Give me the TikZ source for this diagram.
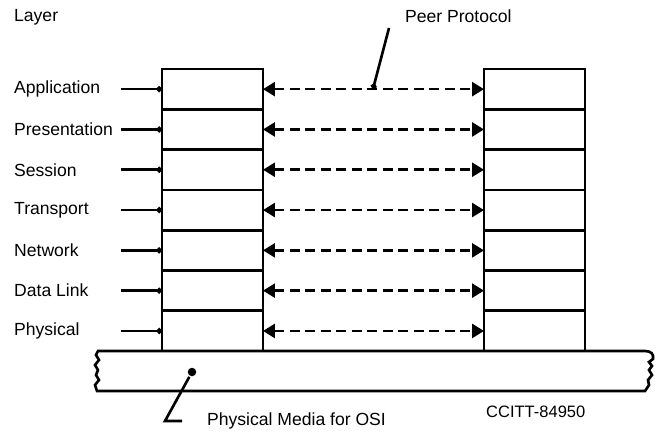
\documentclass[tikz,border=0pt]{standalone}
\usepackage{fontspec}
\setmainfont{Liberation Sans}
\usetikzlibrary{arrows.meta,positioning}

\begin{document}
\begin{tikzpicture}[x=0.02cm,y=-0.02cm,line width=1.5pt,font=\fontsize{10}{12}\selectfont,
    layerbox/.style={draw,minimum width=2.02cm,minimum height=0.806cm,inner sep=0pt,outer sep=0pt},
    peer/.style={dashed,dash pattern=on 0.2cm off 0.11cm,{Triangle[length=0.24cm,width=0.28cm]}-{Triangle[length=0.24cm,width=0.28cm]}},
    feed/.style={-{Circle[length=3.2pt]}},
    mediadot/.style={circle,fill,inner sep=0pt,minimum size=0.17cm}]
    \useasboundingbox (0,0) rectangle (655,436);

    % column titles
    \node[anchor=west] (layer) at (7,17) {Layer};
    \node[anchor=west] (peerlabel) at (398,16) {Peer Protocol};

    % the two seven-layer stacks
    \foreach \name [count=\i] in {Application,Presentation,Session,Transport,Network,Data Link,Physical} {
      \node[layerbox] (L\i) at (212.5,{69+40.3*(\i-0.5)}) {};
      \node[layerbox] (R\i) at (534.5,{69+40.3*(\i-0.5)}) {};
      \node[anchor=west] (name\i) at (7,{69+40.3*(\i-0.5)}) {\name};
      \coordinate (in\i) at (121,{69+40.3*(\i-0.5)});
      \draw[feed] (in\i) -- (L\i.west);
      \draw[peer] (L\i.east) -- (R\i.west);
    }

    % pointer to the peer protocol arrows
    \coordinate (ptop) at (389,28);
    \coordinate (ptip) at (373,89);
    \draw[-{Circle[length=3.2pt]}] (ptop) -- (ptip);

    % physical media bar
    \draw (98,351) -- (645,351) .. controls (651,351) and (654,354) .. (653,359)
      -- (649,362) -- (652,366) -- (649,370) -- (652,375) -- (648,380) -- (649,385)
      -- (645,391) -- (97,391) -- (95,385) -- (99,380) -- (96,375) -- (98,370)
      -- (95,365) -- (99,360) -- (96,355) -- cycle;

    % media label
    \node[mediadot] (mdot) at (192,372) {};
    \node[anchor=west] (medialabel) at (200,421) {Physical Media for OSI};
    \coordinate (mbend) at (165,421);
    \coordinate (mtail) at (182,421);
    \draw (mdot) -- (mbend) -- (mtail);

    \node[anchor=west,font=\fontsize{9.4}{11}\selectfont] (ccitt) at (479,412) {CCITT-84950};
\end{tikzpicture}
\end{document}
